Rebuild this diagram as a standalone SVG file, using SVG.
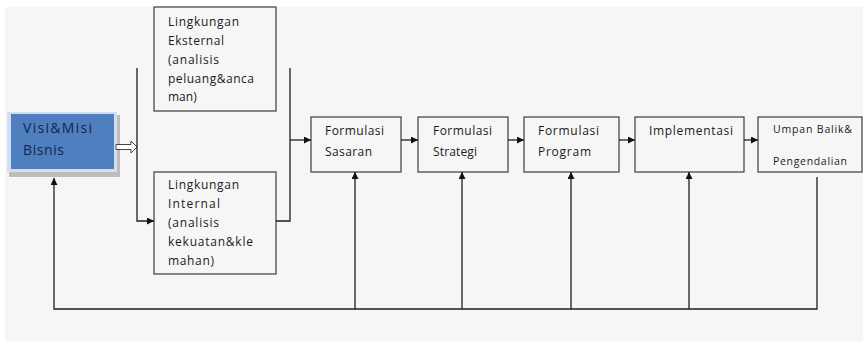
<svg xmlns="http://www.w3.org/2000/svg" width="863" height="341" viewBox="0 0 863 341">
  <style>
    .box { fill: #f6f6f6; stroke: #3c3c3c; stroke-width: 1.2; }
    .t { font-family: "Open Sans", "Liberation Sans", sans-serif; font-size: 12px; fill: #1a1a1a; }
    .ts { font-family: "Open Sans", "Liberation Sans", sans-serif; font-size: 10.5px; fill: #1a1a1a; }
    .tv { font-family: "Open Sans", "Liberation Sans", sans-serif; font-size: 14px; fill: #15254d; }
    .ln { fill: none; stroke: #1e1e1e; stroke-width: 1.3; }
  </style>
  <defs>
    <marker id="ah" viewBox="0 0 10 10" refX="10" refY="5" markerWidth="7" markerHeight="7" markerUnits="userSpaceOnUse" orient="auto">
      <path d="M0,0 L10,5 L0,10 Z" fill="#111"/>
    </marker>
  </defs>

  <!-- page background -->
  <rect x="0" y="0" width="863" height="341" fill="#ffffff"/>
  <rect x="5" y="7" width="858" height="334" fill="#f6f6f6"/>

  <!-- vision & mission -->
  <g id="visi-misi">
    <rect x="9" y="115" width="111" height="62" fill="#bdbdbd"/>
    <rect x="7" y="112" width="110" height="60" fill="#d3def0"/>
    <rect x="11" y="114" width="103" height="55" fill="#4f7fbf"/>
    <text class="tv" x="23" y="133" textLength="69">Visi&amp;Misi</text>
    <text class="tv" x="23" y="155" textLength="41">Bisnis</text>
  </g>

  <g id="lingkungan-eksternal">
    <rect class="box" x="154" y="7" width="122" height="104"/>
    <text class="t" x="168" y="26" textLength="71">Lingkungan</text>
    <text class="t" x="168" y="45" textLength="56">Eksternal</text>
    <text class="t" x="168" y="64" textLength="51">(analisis</text>
    <text class="t" x="168" y="83" textLength="86">peluang&amp;anca</text>
    <text class="t" x="168" y="101">man)</text>
  </g>

  <g id="lingkungan-internal">
    <rect class="box" x="154" y="172" width="122" height="102"/>
    <text class="t" x="168" y="189" textLength="71">Lingkungan</text>
    <text class="t" x="168" y="208" textLength="52">Internal</text>
    <text class="t" x="168" y="227" textLength="51">(analisis</text>
    <text class="t" x="168" y="246" textLength="85">kekuatan&amp;kle</text>
    <text class="t" x="168" y="265" textLength="46">mahan)</text>
  </g>

  <g id="formulasi-sasaran">
    <rect class="box" x="311" y="117" width="90" height="55"/>
    <text class="t" x="325" y="135" textLength="59">Formulasi</text>
    <text class="t" x="325" y="156" textLength="47">Sasaran</text>
  </g>

  <g id="formulasi-strategi">
    <rect class="box" x="418" y="117" width="90" height="55"/>
    <text class="t" x="433" y="135" textLength="59">Formulasi</text>
    <text class="t" x="433" y="156" textLength="44">Strategi</text>
  </g>

  <g id="formulasi-program">
    <rect class="box" x="524" y="117" width="95" height="55"/>
    <text class="t" x="538" y="135" textLength="61">Formulasi</text>
    <text class="t" x="538" y="156" textLength="53">Program</text>
  </g>

  <g id="implementasi">
    <rect class="box" x="635" y="117" width="109" height="55"/>
    <text class="t" x="649" y="135" textLength="84">Implementasi</text>
  </g>

  <g id="umpan-balik">
    <rect class="box" x="758" y="117" width="104" height="55"/>
    <text class="ts" x="773" y="133" textLength="79">Umpan Balik&amp;</text>
    <text class="ts" x="773" y="165" textLength="74">Pengendalian</text>
  </g>

  <g id="connectors">
    <!-- hollow arrow from vision box to the environment scan -->
    <path d="M116,144.5 H131 V141 L137,147 L131,153 V149.5 H116 Z" fill="#ffffff" stroke="#444" stroke-width="1"/>
    <!-- left bracket into internal analysis -->
    <path class="ln" d="M137,68 V221 H154" marker-end="url(#ah)"/>
    <!-- right bracket collecting both analyses -->
    <path class="ln" d="M276,221 H290 V68"/>
    <path class="ln" d="M290,140 H311" marker-end="url(#ah)"/>
    <!-- main chain -->
    <path class="ln" d="M401,140 H418" marker-end="url(#ah)"/>
    <path class="ln" d="M508,140 H524" marker-end="url(#ah)"/>
    <path class="ln" d="M619,140 H635" marker-end="url(#ah)"/>
    <path class="ln" d="M744,140 H758" marker-end="url(#ah)"/>
    <!-- feedback loop -->
    <path class="ln" d="M817,177 V309 H54 V178" marker-end="url(#ah)"/>
    <path class="ln" d="M355,309 V172" marker-end="url(#ah)"/>
    <path class="ln" d="M462,309 V172" marker-end="url(#ah)"/>
    <path class="ln" d="M571,309 V172" marker-end="url(#ah)"/>
    <path class="ln" d="M689,309 V172" marker-end="url(#ah)"/>
  </g>
</svg>
